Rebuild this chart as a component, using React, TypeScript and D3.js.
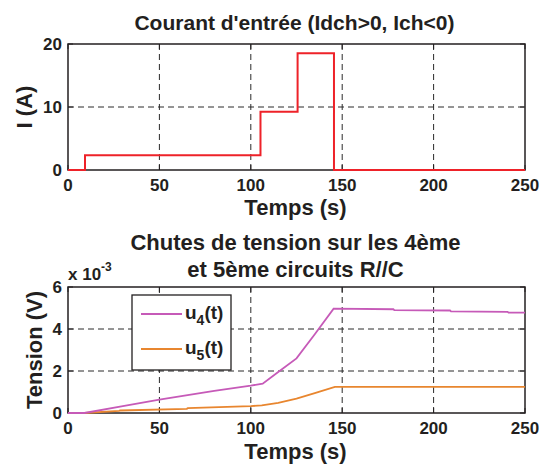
import React from "react";
import * as d3 from "d3";

// Input current (step profile)
const currentT = [0, 9.3, 9.3, 105.3, 105.3, 125.6, 125.6, 145.5, 145.5, 250];
const currentI = [0, 0, 2.35, 2.35, 9.25, 9.25, 18.55, 18.55, 0, 0];

// Voltage drops (x 10^-3 V)
const u4T = [0, 9, 30, 50, 80, 100, 106.5, 115, 125, 135, 145.3, 178, 178.5, 209, 209.5, 240.5, 241, 250];
const u4 = [0, 0, 0.33, 0.64, 1.05, 1.3, 1.4, 1.95, 2.6, 3.75, 4.97, 4.94, 4.9, 4.88, 4.84, 4.82, 4.78, 4.78];
const u5T = [0, 9, 28, 28.5, 65, 65.5, 100, 106, 115, 125, 135, 146, 250];
const u5 = [0, 0, 0.1, 0.12, 0.2, 0.23, 0.33, 0.36, 0.48, 0.68, 0.95, 1.24, 1.24];

const xTicks = [0, 50, 100, 150, 200, 250];
const yTicksTop = [0, 10, 20];
const yTicksBottom = [0, 2, 4, 6];
const legendLabels = ["4", "5"];

const TEXT = "#231f20";
const FONT = "Liberation Sans, Arial, sans-serif";

export default function App() {
  const x = d3.scaleLinear().domain([0, 250]).range([68, 525]);
  const yTop = d3.scaleLinear().domain([0, 20]).range([170, 44]);
  const yBot = d3.scaleLinear().domain([0, 6]).range([413, 287]);

  const lineTop = d3
    .line<number>()
    .x((_, i) => x(currentT[i]))
    .y((d) => yTop(d));
  const line4 = d3
    .line<number>()
    .x((_, i) => x(u4T[i]))
    .y((d) => yBot(d));
  const line5 = d3
    .line<number>()
    .x((_, i) => x(u5T[i]))
    .y((d) => yBot(d));

  const colors = ["#c65ab8", "#e8862f"];
  const [xl, xr] = x.range();
  const cx = (xl + xr) / 2;

  const panel = (
    y: d3.ScaleLinear<number, number>,
    yTicks: number[],
    key: string
  ) => {
    const [y0, y1] = y.range();
    return (
      <g key={key}>
        {xTicks.slice(1, -1).map((t) => (
          <line
            key={"gx" + t}
            x1={x(t)}
            x2={x(t)}
            y1={y0}
            y2={y1}
            stroke="#2a2a2a"
            strokeWidth={1}
            strokeDasharray="6,4"
          />
        ))}
        {yTicks.slice(1, -1).map((t) => (
          <line
            key={"gy" + t}
            x1={xl}
            x2={xr}
            y1={y(t)}
            y2={y(t)}
            stroke="#2a2a2a"
            strokeWidth={1}
            strokeDasharray="6,4"
          />
        ))}
        {xTicks.map((t) => (
          <g key={"tk" + t}>
            <line x1={x(t)} x2={x(t)} y1={y0} y2={y0 - 5} stroke={TEXT} strokeWidth={1} />
            <line x1={x(t)} x2={x(t)} y1={y1} y2={y1 + 5} stroke={TEXT} strokeWidth={1} />
          </g>
        ))}
        {yTicks.map((t) => (
          <g key={"tky" + t}>
            <line x1={xl} x2={xl + 5} y1={y(t)} y2={y(t)} stroke={TEXT} strokeWidth={1} />
            <line x1={xr} x2={xr - 5} y1={y(t)} y2={y(t)} stroke={TEXT} strokeWidth={1} />
          </g>
        ))}
        <rect
          x={xl}
          y={y1}
          width={xr - xl}
          height={y0 - y1}
          fill="none"
          stroke={TEXT}
          strokeWidth={1.5}
        />
        {xTicks.map((t) => (
          <text
            key={"tx" + t}
            x={x(t)}
            y={y0 + 21}
            textAnchor="middle"
            fontSize={17}
            fontWeight="bold"
            fill={TEXT}
          >
            {t}
          </text>
        ))}
        {yTicks.map((t) => (
          <text
            key={"ty" + t}
            x={62}
            y={y(t) + 6}
            textAnchor="end"
            fontSize={17}
            fontWeight="bold"
            fill={TEXT}
          >
            {t}
          </text>
        ))}
      </g>
    );
  };

  return (
    <svg
      width={541}
      height={466}
      style={{ position: "absolute", left: 0, top: 0 }}
      fontFamily={FONT}
    >
      <rect width={541} height={466} fill="#fff" />
      {/* Top panel */}
      <text x={cx - 2} y={30} textAnchor="middle" fontSize={21} fontWeight="bold" fill={TEXT}>
        Courant d'entrée (Idch&gt;0, Ich&lt;0)
      </text>
      {panel(yTop, yTicksTop, "top")}
      <path d={lineTop(currentI) || ""} fill="none" stroke="#ee2229" strokeWidth={2} />
      <text x={cx - 1} y={215} textAnchor="middle" fontSize={22} fontWeight="bold" fill={TEXT}>
        Temps (s)
      </text>
      <text
        transform="translate(32,107) rotate(-90)"
        textAnchor="middle"
        fontSize={22}
        fontWeight="bold"
        fill={TEXT}
      >
        I (A)
      </text>

      {/* Bottom panel */}
      <text x={cx - 1} y={250} textAnchor="middle" fontSize={22} fontWeight="bold" fill={TEXT}>
        Chutes de tension sur les 4ème
      </text>
      <text x={cx - 1} y={277} textAnchor="middle" fontSize={22} fontWeight="bold" fill={TEXT}>
        et 5ème circuits R//C
      </text>
      <text x={68} y={280} fontSize={17} fontWeight="bold" fill={TEXT}>
        x 10
        <tspan dy={-9} fontSize={12}>
          -3
        </tspan>
      </text>
      {panel(yBot, yTicksBottom, "bot")}
      <path d={line5(u5) || ""} fill="none" stroke={colors[1]} strokeWidth={1.8} />
      <path d={line4(u4) || ""} fill="none" stroke={colors[0]} strokeWidth={1.8} />
      <text x={cx - 1} y={459} textAnchor="middle" fontSize={22} fontWeight="bold" fill={TEXT}>
        Temps (s)
      </text>
      <text
        transform="translate(42,350) rotate(-90)"
        textAnchor="middle"
        fontSize={22}
        fontWeight="bold"
        fill={TEXT}
      >
        Tension (V)
      </text>

      {/* Legend */}
      <rect x={132} y={295} width={99} height={75} fill="#fff" stroke={TEXT} strokeWidth={1.3} />
      {legendLabels.map((s, i) => (
        <g key={s}>
          <line
            x1={141}
            x2={182}
            y1={314 + i * 35}
            y2={314 + i * 35}
            stroke={colors[i]}
            strokeWidth={1.8}
          />
          <text x={185} y={319 + i * 35} fontSize={19} fontWeight="bold" fill={TEXT}>
            u
            <tspan dy={6} fontSize={14}>
              {s}
            </tspan>
            <tspan dy={-6}>(t)</tspan>
          </text>
        </g>
      ))}
    </svg>
  );
}
